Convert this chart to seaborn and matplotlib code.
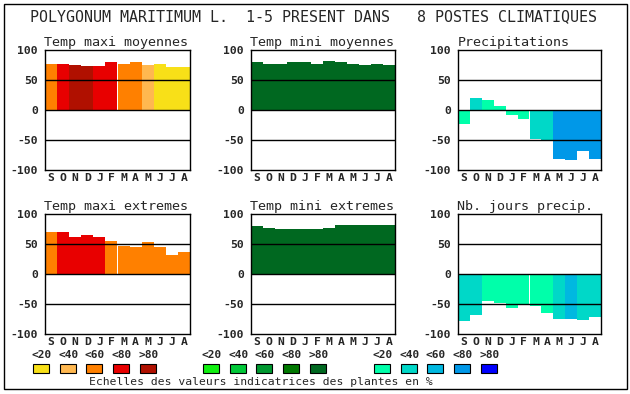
import matplotlib
matplotlib.use('Agg')
import matplotlib.pyplot as plt
import seaborn as sns
import pandas as pd
from matplotlib.patches import Rectangle

sns.set_style('white')
plt.rcParams['font.family'] = ['DejaVu Sans Mono', 'DejaVu Sans']

months = ['S', 'O', 'N', 'D', 'J', 'F', 'M', 'A', 'M', 'J', 'J', 'A']

title = 'POLYGONUM MARITIMUM L.  1-5 PRESENT DANS   8 POSTES CLIMATIQUES'
panel_titles = ['Temp maxi moyennes', 'Temp mini moyennes', 'Precipitations',
                'Temp maxi extremes', 'Temp mini extremes', 'Nb. jours precip.']

tmax_moy = [77, 77, 75, 73, 73, 80, 77, 80, 75, 77, 72, 72]
tmax_moy_cls = [2, 3, 4, 4, 3, 3, 2, 2, 1, 0, 0, 0]
tmin_moy = [80, 77, 77, 80, 80, 77, 82, 80, 77, 75, 77, 75]
tmin_moy_cls = [4] * 12
precip = [-23, 20, 17, 7, -8, -15, -48, -50, -82, -83, -68, -82]
precip_cls = [0, 1, 0, 0, 0, 0, 1, 1, 3, 3, 3, 3]
tmax_ext = [70, 70, 62, 65, 62, 55, 47, 45, 53, 45, 32, 37]
tmax_ext_cls = [2, 3, 3, 3, 3, 2, 2, 2, 2, 2, 2, 2]
tmin_ext = [80, 77, 75, 75, 75, 75, 77, 82, 82, 82, 82, 82]
tmin_ext_cls = [4] * 12
jours = [-78, -68, -45, -48, -57, -52, -53, -65, -75, -75, -77, -72]
jours_cls = [1, 1, 0, 0, 0, 0, 0, 0, 1, 2, 1, 1]

warm_colors = ['#F8E018', '#FFB850', '#FF8000', '#E80000', '#B01000']
green_colors = ['#10F010', '#00C838', '#009830', '#007800', '#006820']
blue_colors = ['#00FFAA', '#00D8C8', '#00B8E0', '#0098E8', '#0000FF']
class_labels = ['<20', '<40', '<60', '<80', '>80']
legend_title = 'Echelles des valeurs indicatrices des plantes en %'

W, H = 630, 394
fig = plt.figure(figsize=(W / 100, H / 100), dpi=100)

def fx(px):
    return px / W

def fy(py):
    return 1 - py / H

panels = [
    (tmax_moy, tmax_moy_cls, warm_colors),
    (tmin_moy, tmin_moy_cls, green_colors),
    (precip, precip_cls, blue_colors),
    (tmax_ext, tmax_ext_cls, warm_colors),
    (tmin_ext, tmin_ext_cls, green_colors),
    (jours, jours_cls, blue_colors),
]
lefts = [45, 251, 458]
rights = [190, 395, 601]
tops = [50, 214]
ax_h = 120

for i, (vals, cls, cols) in enumerate(panels):
    r, c = divmod(i, 3)
    l, rt, t = lefts[c], rights[c], tops[r]
    ax = fig.add_axes([fx(l), fy(t + ax_h), (rt - l) / W, ax_h / H])
    df = pd.DataFrame({'pos': list(range(12)), 'val': vals,
                       'cls': [class_labels[k] for k in cls]})
    pal = {class_labels[k]: cols[k] for k in range(5)}
    sns.barplot(data=df, x='pos', y='val', hue='cls', palette=pal,
                order=list(range(12)), dodge=False, width=1, saturation=1,
                legend=False, ax=ax, linewidth=0, edgecolor='none', zorder=2)
    ax.set_xlim(-0.5, 11.5)
    ax.set_ylim(-100, 100)
    for yv in (-50, 0, 50):
        ax.axhline(yv, color='black', lw=1.0, zorder=3)
    ax.set_yticks([-100, -50, 0, 50, 100])
    ax.set_yticklabels(['-100', '-50', '0', '50', '100'],
                       fontweight='bold', fontsize=8.2)
    ax.set_xticks(range(12))
    ax.set_xticklabels(months, fontweight='bold', fontsize=8.2)
    ax.tick_params(axis='both', length=0)
    ax.tick_params(axis='y', pad=5)
    ax.tick_params(axis='x', pad=2)
    ax.set_xlabel('')
    ax.set_ylabel('')
    for s in ax.spines.values():
        s.set_visible(True)
        s.set_color('black')
        s.set_linewidth(1.0)
    ax.set_title(panel_titles[i], loc='left', fontsize=9.6, pad=3, x=-0.005)

fig.text(fx(314), fy(17), title, ha='center', va='center', fontsize=10.8)

# colour scale legend
group_x = [33, 203, 374]
box_step = 26.7
for g, cols in enumerate([warm_colors, green_colors, blue_colors]):
    for k in range(5):
        x0 = group_x[g] + k * box_step
        fig.patches.append(Rectangle((fx(x0), fy(373)), 16 / W, 9 / H,
                                     transform=fig.transFigure,
                                     facecolor=cols[k], edgecolor='black',
                                     lw=0.8))
        fig.text(fx(x0 + 8.5), fy(355), class_labels[k], ha='center',
                 va='center', fontsize=8, fontweight='bold')

fig.text(fx(261), fy(382), legend_title, ha='center', va='center', fontsize=8.2)

fig.patches.append(Rectangle((fx(4), fy(389)), 623 / W, 385 / H,
                             transform=fig.transFigure, facecolor='none',
                             edgecolor='black', lw=1.0))

fig.savefig('out.png', dpi=100)
